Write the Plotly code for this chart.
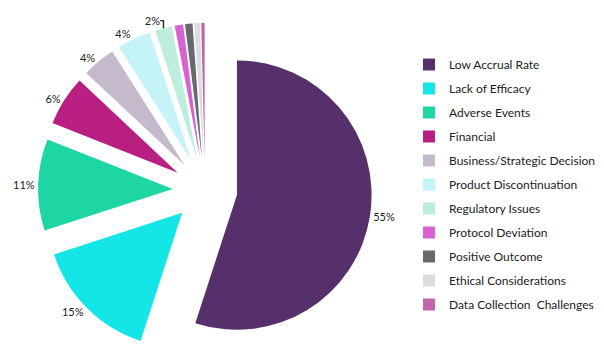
import plotly.graph_objects as go

labels = ["Low Accrual Rate", "Lack of Efficacy", "Adverse Events", "Financial",
          "Business/Strategic Decision", "Product Discontinuation", "Regulatory Issues",
          "Protocol Deviation", "Positive Outcome", "Ethical Considerations",
          "Data Collection  Challenges"]
values = [55, 15, 11, 6, 4, 4, 2, 1.0, 0.9, 0.7, 0.4]
colors = ["#55306a", "#14e6e8", "#1ed6a4", "#b81f80", "#c4bacb", "#c4f3f8",
          "#bdeedc", "#d862d0", "#666a70", "#dcdce0", "#c066a8"]
show_label = [True] * 7 + [False] * 4

fig = go.Figure()
fig.add_trace(go.Pie(
    labels=labels, values=values, sort=False, direction="clockwise", rotation=0,
    pull=[0.24] * len(values),
    marker=dict(colors=colors, line=dict(width=0)),
    texttemplate="%{percent:.0%}",
    textposition=["outside" if s else "none" for s in show_label],
    outsidetextfont=dict(family="Lato", size=11, color="#222222"),
    hoverinfo="label+percent",
    showlegend=False,
    domain=dict(x=[30 / 604, 364 / 604], y=[1 - 349 / 364, 1 - 15 / 364]),
))

for lab, col in zip(labels, colors):
    fig.add_trace(go.Scatter(
        x=[None], y=[None], mode="markers", name=lab, legendgroup=lab,
        marker=dict(symbol="square", size=8, color=col),
    ))

fig.update_layout(
    width=604, height=364,
    margin=dict(l=0, r=0, t=0, b=0, autoexpand=False),
    paper_bgcolor="white", plot_bgcolor="white",
    xaxis=dict(visible=False), yaxis=dict(visible=False),
    legend=dict(x=401 / 604, y=1 - 42 / 364, xanchor="left", yanchor="top",
                font=dict(family="Lato", size=12, color="#222222"),
                tracegroupgap=5, itemsizing="constant"),
    font=dict(family="Lato"),
)

fig.write_html("out.html")
